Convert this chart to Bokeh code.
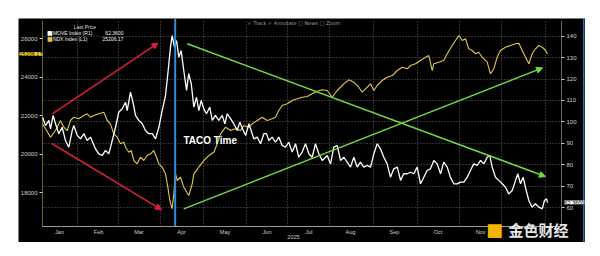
from bokeh.plotting import figure
from bokeh.models import Range1d, LinearAxis, FixedTicker, Label, Arrow, NormalHead, Span, Grid
from bokeh.embed import file_html
from bokeh.resources import INLINE

# x unit: day index of 2025 (0 = first trading day, 365 = 31 Dec 2025)
ndx_day = [0, 2.2, 5.8, 9.4, 13, 15.4, 17.9, 20.2, 22.6, 26.2, 29.9, 32.3, 34.7, 37.1, 40.7, 44.3,
           46.8, 49.1, 51.5, 54, 56.4, 58.8, 60, 62.4, 64.1, 66, 68.4, 70.8, 73.2, 75.7, 78.1, 80.4,
           82.4, 84.1, 86.5, 88.9, 90.6, 92, 93.7, 94.9, 96.1, 97.4, 99.7, 102.1, 105.7, 108.2, 109.4,
           113, 116.6, 120.2, 123.8, 126.3, 128.7, 132.3, 135.9, 139.5, 143.1, 145.5, 149.1, 151.6,
           155.2, 158.8, 162.4, 166, 168.4, 170.8, 173.2, 176.9, 180.5, 184.1, 187.7, 191.3, 194.9,
           198.5, 202.2, 205.8, 209.4, 213, 217.8, 221.4, 225, 228.6, 231.1, 233.5, 237.1, 239.5,
           241.9, 245.5, 249.1, 252.8, 256.4, 260, 263.6, 266, 269.6, 273.2, 276.8, 279.2, 281.7,
           282.8, 286.4, 290, 292.5, 296.1, 298.5, 300.9, 303.4, 305.7, 308.1, 310.6, 313, 315.3,
           317.8, 321.4, 323.8, 326.2, 328.6, 331, 334.6, 338.3, 341.9, 344.3, 346.7, 349.1, 351.5,
           353.9, 356.3, 358.7, 361.2, 363.6, 365]
ndx = [21584, 21325, 20888, 21236, 21756, 21408, 21236, 21756, 21927, 21844, 22015, 22104, 21927,
       22015, 22104, 22187, 21756, 21584, 21065, 20888, 20545, 20628, 20369, 20109, 20197, 19678,
       19506, 19849, 19678, 19937, 20026, 20197, 19849, 19506, 19330, 18987, 18291, 17600, 17168,
       17948, 18987, 18639, 18810, 18291, 17859, 18467, 18987, 19330, 19678, 19937, 20109, 20545,
       21065, 21408, 21236, 21325, 21236, 21496, 21408, 21584, 21756, 21927, 21756, 21844, 21927,
       22275, 22535, 22623, 22795, 22883, 22966, 23002, 23143, 23278, 23351, 23314, 22966, 23314,
       23662, 23870, 23745, 23486, 23226, 23402, 23662, 23314, 23574, 23834, 24005, 24093, 24353,
       24525, 24441, 24613, 24701, 24873, 25044, 25132, 24353, 24701, 24784, 24873, 25221, 25652,
       25912, 26171, 25912, 26000, 25481, 25392, 25221, 25304, 25044, 24784, 24182, 24442, 25044,
       25392, 25564, 25652, 25740, 25771, 25392, 25044, 24701, 25221, 25481, 25652, 25564, 25392,
       25206.17]

move_day = [0, 2.2, 4.6, 5.8, 7.7, 9.4, 11.8, 14.2, 16.6, 19, 21.5, 22.6, 25.1, 27.5, 29.9, 32.3,
            34.7, 38.3, 40.7, 43.1, 45.5, 47.9, 50.4, 52.8, 55.1, 57.6, 60, 61.2, 63.6, 65.6, 67.2,
            69.6, 72.1, 74.4, 76.8, 79.3, 81.7, 84.1, 86.5, 88.9, 90.6, 92.5, 93.7, 95.4, 96.9, 98.5,
            100.2, 102.1, 104.1, 105.7, 107.5, 109.4, 111.3, 113, 114.7, 116.6, 118.5, 120.9, 122.7,
            125, 127.4, 129.9, 131.8, 133.5, 135.9, 138.3, 140.7, 142.6, 145.1, 146.9, 149.1, 150.8,
            152.7, 155.2, 157.6, 160, 161.9, 163.6, 166, 168.4, 170.8, 173.2, 175.6, 178, 180.5,
            182.9, 185.2, 187.7, 190.1, 192.5, 194.9, 197.3, 199.7, 202.2, 205.8, 208.2, 210.5, 213,
            215.4, 217.8, 220.2, 222.6, 225, 227.5, 229.8, 232.2, 234.7, 237.1, 239.5, 241.9, 244.3,
            246.7, 249.1, 251.5, 253.9, 256.4, 258.8, 261.1, 263.6, 266, 268.4, 270.8, 273.2, 275.6,
            278, 280.4, 282.8, 285.3, 287.7, 290, 292.5, 294.9, 297.3, 299.7, 302.1, 304.5, 307,
            309.3, 311.7, 314.2, 316.6, 319, 321.4, 323.3, 325, 327.4, 329.8, 332.3, 334.6, 337,
            339.5, 341.9, 343.5, 345.5, 347.4, 349.3, 351.5, 353.9, 356.3, 358.7, 361.2, 362.8,
            364.3, 365]
move = [102.2, 98.3, 100.7, 96.8, 103, 99.1, 94.5, 97.5, 91.3, 88.2, 96, 98.3, 93.7, 92.1, 94.5,
        91.3, 92.9, 87.4, 85.1, 84.3, 86.7, 85.1, 91.3, 97.5, 104.5, 106.1, 109.2, 105.3, 113.9,
        108.5, 103, 100.7, 99.1, 96, 94.5, 94.5, 92.1, 97.5, 105.3, 112.3, 122.5, 134.9, 140.3,
        134.9, 138, 130.2, 133.3, 124, 114.7, 122.5, 117.8, 106.9, 111.5, 105.3, 110, 106.1, 103.8,
        106.9, 100.7, 103, 100.7, 103, 99.1, 103.8, 101.5, 99.1, 96, 99.9, 96, 93.7, 99.1, 96, 92.1,
        92.9, 89.8, 94.5, 94.5, 91.3, 92.9, 90.5, 92.9, 89, 88.2, 90.5, 85.9, 89.8, 83.5, 85.9,
        89.8, 85.1, 83.5, 89.8, 85.1, 82, 84.3, 80.4, 88.2, 89, 82, 83.5, 81.2, 78.9, 83.5, 78.9,
        81.2, 78.9, 79.7, 78.9, 85.1, 89.8, 87.4, 83.5, 80.4, 74.2, 78.1, 78.9, 72.7, 75.8, 75.8,
        76.5, 75.8, 78.9, 71.1, 74.2, 77.3, 78.1, 82, 80.4, 75.8, 81.2, 78.9, 74, 71.1, 71.1, 71.9,
        71.9, 74.2, 77.3, 80.4, 79.7, 82, 80.4, 83.5, 84.3, 78.9, 74.2, 72.7, 71.1, 69.5, 66.4, 68,
        72.7, 75.8, 71.1, 74.2, 68.8, 63.3, 60.2, 61.8, 60.2, 59.4, 63.3, 64.1, 62.36]

# the December label is hidden under the watermark in the reference
month_labels = ["Jan", "Feb", "Mar", "Apr", "May", "Jun", "Jul", "Aug", "Sep", "Oct", "Nov"]
month_label_day = [12.3, 40.5, 69.7, 100.5, 131.9, 162.3, 192.6, 222.6, 254.4, 285.9, 316.6]
month_start_day = [25.3, 54.6, 85.3, 116.7, 147.1, 177.4, 207.4, 239.2, 270.7, 301.4, 331.7, 363.6]
move_ticks = [60, 70, 80, 90, 100, 110, 120, 130, 140]
ndx_ticks = [18000, 20000, 22000, 24000, 26000]
last_move = 62.36
last_ndx = 25206.17
taco_day = 95.9

# plot-area bounds (inside the black Bloomberg panel) and whole-panel view ranges
X0, X1 = 0, 375.1
MOVE0, MOVE1 = 51.13, 147.33
NDX0, NDX1 = 16249, 26951

FONT = "Liberation Sans"
GREY = "#cfcfcf"
YELLOW = "#e3c84a"

p = figure(width=567, height=224, margin=(18, 15, 14, 18), output_backend="svg",
           toolbar_location=None, title=None, y_axis_location="right",
           x_range=Range1d(-17.35, 392.46), y_range=Range1d(43.71, 148.26),
           background_fill_color="black", border_fill_color="black", min_border=0)
p.outline_line_color = None
p.extra_y_ranges = {"ndx": Range1d(15418, 27055)}

# right axis (MOVE) pinned to the plot-area edge
ra = p.yaxis[0]
ra.fixed_location = X1
ra.bounds = (MOVE0, MOVE1)
ra.ticker = FixedTicker(ticks=move_ticks)
ra.axis_line_color = GREY
ra.axis_line_dash = "1 1"
ra.major_tick_line_color = GREY
ra.major_tick_out = 3
ra.major_tick_in = 0
ra.minor_tick_line_color = None
ra.major_label_text_font = FONT
ra.major_label_text_font_size = "6px"
ra.major_label_text_color = GREY
ra.major_label_standoff = 2

# left axis (NDX)
la = LinearAxis(y_range_name="ndx", ticker=FixedTicker(ticks=ndx_ticks), fixed_location=X0,
                bounds=(NDX0, NDX1))
la.axis_line_color = YELLOW
la.axis_line_dash = "1 1"
la.major_tick_line_color = GREY
la.major_tick_out = 3
la.major_tick_in = 0
la.minor_tick_line_color = None
la.major_label_text_font = FONT
la.major_label_text_font_size = "6px"
la.major_label_text_color = GREY
la.major_label_standoff = 2
p.add_layout(la, "left")

# bottom axis
xa = p.xaxis[0]
xa.fixed_location = MOVE0
xa.bounds = (X0, X1)
xa.ticker = FixedTicker(ticks=month_label_day)
xa.major_label_overrides = {d: m for d, m in zip(month_label_day, month_labels)}
xa.axis_line_color = "#9a9a9a"
xa.major_tick_out = 0
xa.major_tick_in = 0
xa.minor_tick_line_color = None
xa.major_label_text_font = FONT
xa.major_label_text_font_size = "5.5px"
xa.major_label_text_color = GREY
xa.major_label_standoff = 2

# grids
grid_cross_ok = "cross_bounds" in Grid.properties()
p.xgrid.ticker = FixedTicker(ticks=month_start_day)
p.ygrid.ticker = FixedTicker(ticks=move_ticks)
if grid_cross_ok:
    p.xgrid.cross_bounds = (MOVE0, MOVE1)
    p.ygrid.cross_bounds = (X0, X1)
    for g in (p.xgrid, p.ygrid):
        g.grid_line_color = "#606060"
        g.grid_line_dash = "1 2"
        g.grid_line_width = 1
else:
    p.xgrid.visible = False
    p.ygrid.visible = False
    p.segment(x0=month_start_day, x1=month_start_day, y0=[MOVE0] * len(month_start_day),
              y1=[MOVE1] * len(month_start_day), line_color="#606060", line_dash="1 2", line_width=1)
    p.segment(x0=[X0] * len(move_ticks), x1=[X1] * len(move_ticks), y0=move_ticks, y1=move_ticks,
              line_color="#606060", line_dash="1 2", line_width=1)

# series
p.line(ndx_day, ndx, y_range_name="ndx", line_color=YELLOW, line_width=1.1)
p.line(move_day, move, line_color="white", line_width=1.3)

# TACO vertical line (from axis to the top of the panel)
p.segment(x0=[taco_day], x1=[taco_day], y0=[MOVE0], y1=[148.26], line_color="#2b8fde", line_width=2)
# blue panel border on the right
p.add_layout(Span(location=391.2, dimension="height", line_color="#2a6fc8", line_width=1.5))

# arrows
RED = "#d8203c"
GREEN = "#74d844"
arrows = [
    (7, 103.8, 83.5, 136.8, RED),
    (7, 89.8, 86, 59.1, RED),
    (104.6, 136.5, 363.5, 74.5, GREEN),
    (102.1, 59.4, 361.4, 125.2, GREEN),
]
for xs, ys, xe, ye, c in arrows:
    p.add_layout(Arrow(x_start=xs, y_start=ys, x_end=xe, y_end=ye, line_color=c, line_width=1.5,
                       end=NormalHead(size=6, fill_color=c, line_color=c)))

p.add_layout(Label(x=101.9, y=91.2, text="TACO Time", text_font=FONT, text_font_style="bold",
                   text_font_size="10px", text_color="white", text_baseline="middle"))

# legend block
p.add_layout(Label(x=30.7, y=144.3, text="Last Price", text_font=FONT, text_font_size="5px",
                   text_color="#dddddd", text_align="center", text_baseline="middle"))
rows = [("MOVE Index  (R1)", f"{last_move:.4f}", "white", 141.5),
        ("NDX Index  (L1)", f"{last_ndx:.2f}", YELLOW, 138.8)]
for name, val, col, yy in rows:
    p.add_layout(Label(x=3.2, y=yy, text="■", text_font="DejaVu Sans", text_font_size="6px",
                       text_color=col, text_baseline="middle"))
    p.add_layout(Label(x=7.5, y=yy, text=name, text_font=FONT, text_font_size="5px",
                       text_color="#eeeeee", text_baseline="middle"))
    p.add_layout(Label(x=58.5, y=yy, text=val, text_font=FONT, text_font_size="5px",
                       text_color="#eeeeee", text_baseline="middle", text_align="right"))

p.add_layout(Label(x=148.2, y=146.1, text="✓ Track   ✓ Annotate   □ News   □ Zoom",
                   text_font="DejaVu Sans", text_font_size="5px", text_color="#a0a0a0",
                   text_baseline="middle"))

# last value tags on the axes
p.add_layout(Label(x=-16.6, y=last_ndx, y_range_name="ndx", text=f"{last_ndx:.2f}", text_font=FONT,
                   text_font_size="5.5px", text_color="black", text_baseline="middle",
                   background_fill_color="#f0d020"))
p.add_layout(Label(x=377.3, y=last_move, text=f"{last_move:.4f}", text_font=FONT,
                   text_font_size="5.5px", text_color="black", text_baseline="middle",
                   background_fill_color="white"))

# year label under the month labels
p.add_layout(Label(x=181.4, y=46.05, text="2025", text_font=FONT, text_font_size="5.5px",
                   text_color=GREY, text_align="center", text_baseline="middle"))

# watermark
p.add_layout(Label(x=326.7, y=49.8, text="■", text_font="DejaVu Sans", text_font_size="18px",
                   text_color="#f4b400", text_align="center", text_baseline="middle"))
p.add_layout(Label(x=336.8, y=49.8, text="金色财经", text_font="Noto Sans CJK SC",
                   text_font_style="bold", text_font_size="15px", text_color="#e6e6e6",
                   text_baseline="middle"))

open("out.html", "w").write(file_html(p, INLINE))
